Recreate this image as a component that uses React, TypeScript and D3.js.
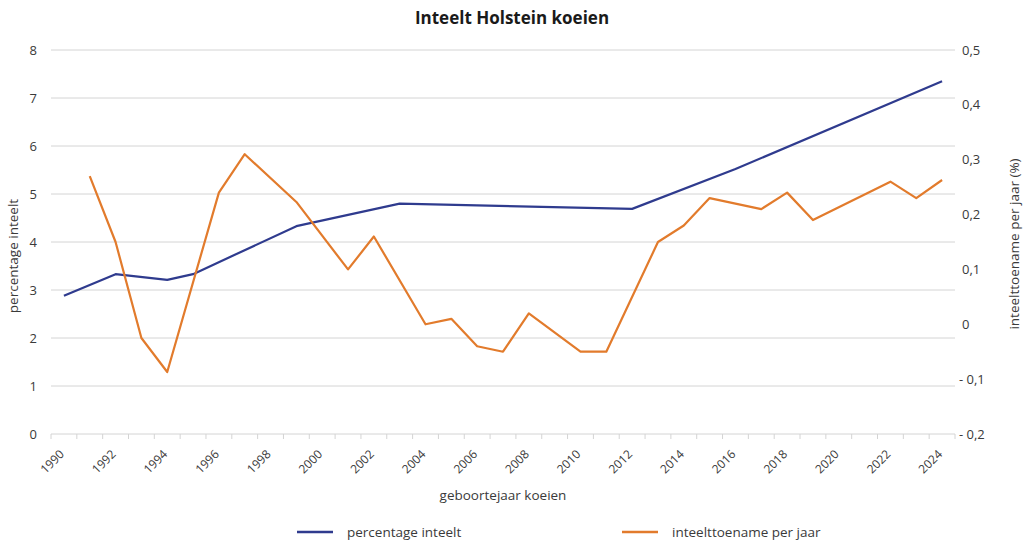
import React, { useEffect, useRef } from 'react';
import * as d3 from 'd3';

// Geboortejaren (categorie-as)
const years: number[] = [
  1990, 1991, 1992, 1993, 1994, 1995, 1996, 1997, 1998, 1999,
  2000, 2001, 2002, 2003, 2004, 2005, 2006, 2007, 2008, 2009,
  2010, 2011, 2012, 2013, 2014, 2015, 2016, 2017, 2018, 2019,
  2020, 2021, 2022, 2023, 2024
];

// percentage inteelt (linker as); null = geen waarde, lijn loopt door
const inteelt: (number | null)[] = [
  2.88, null, 3.33, null, 3.21, 3.33, null, null, null, 4.33,
  null, null, null, 4.8, null, null, null, null, null, null,
  null, null, 4.69, null, null, null, 5.52, null, null, null,
  null, null, null, null, 7.35
];

// inteelttoename per jaar (rechter as)
const toename: (number | null)[] = [
  null, 0.27, 0.15, -0.025, -0.087, null, 0.24, 0.31, null, 0.223,
  null, 0.1, 0.16, null, 0.0, 0.01, -0.04, -0.05, 0.02, null,
  -0.05, -0.05, null, 0.15, 0.18, 0.23, null, 0.21, 0.24, 0.19,
  null, null, 0.26, 0.23, 0.263
];

const leftTicks = [0, 1, 2, 3, 4, 5, 6, 7, 8];
const rightTicks = [-0.2, -0.1, 0, 0.1, 0.2, 0.3, 0.4, 0.5];

const BLUE = '#2f3b8e';
const ORANGE = '#e27b2c';
const INK = '#3a3a3a';
const GRID = '#d4d4d4';
const FONT = '"Open Sans", "Noto Sans", sans-serif';

const App: React.FC = () => {
  const svgRef = useRef<SVGSVGElement>(null);

  useEffect(() => {
    if (!svgRef.current) return;
    document.body.style.margin = '0';

    const width = 1024;
    const height = 549;
    const plot = { left: 51, right: 955, top: 50, bottom: 434 };

    const svg = d3.select(svgRef.current)
      .attr('width', width)
      .attr('height', height);
    svg.selectAll('*').remove();

    const x = d3.scaleBand<number>()
      .domain(years)
      .range([plot.left, plot.right])
      .padding(0);
    const xc = (yr: number) => (x(yr) ?? 0) + x.bandwidth() / 2;

    const yL = d3.scaleLinear().domain([0, 8]).range([plot.bottom, plot.top]);
    const yR = d3.scaleLinear().domain([-0.2, 0.5]).range([plot.bottom, plot.top]);

    // Title
    svg.append('text')
      .attr('x', width / 2)
      .attr('y', 24)
      .attr('text-anchor', 'middle')
      .attr('font-family', FONT)
      .attr('font-size', '17px')
      .attr('font-weight', 'bold')
      .attr('fill', '#1a1a1a')
      .text('Inteelt Holstein koeien');

    // Horizontal grid lines
    svg.append('g')
      .selectAll('line')
      .data(leftTicks.filter(t => t > 0))
      .enter()
      .append('line')
      .attr('x1', plot.left)
      .attr('x2', plot.right)
      .attr('y1', d => yL(d))
      .attr('y2', d => yL(d))
      .attr('stroke', GRID)
      .attr('stroke-width', 1);

    // Bottom axis: ticks on band edges, labels every second year
    const xAxis = svg.append('g');
    xAxis.append('line')
      .attr('x1', plot.left)
      .attr('x2', plot.right)
      .attr('y1', plot.bottom)
      .attr('y2', plot.bottom)
      .attr('stroke', GRID);
    const edges = [...years.map(yr => x(yr) ?? 0), plot.right];
    xAxis.selectAll('.tick')
      .data(edges)
      .enter()
      .append('line')
      .attr('x1', d => d)
      .attr('x2', d => d)
      .attr('y1', plot.bottom)
      .attr('y2', plot.bottom + 5)
      .attr('stroke', GRID);
    xAxis.selectAll('.xlabel')
      .data(years.filter((yr, i) => i % 2 === 0))
      .enter()
      .append('text')
      .attr('transform', d => `translate(${xc(d) - 5},${plot.bottom + 15}) rotate(-45)`)
      .attr('text-anchor', 'end')
      .attr('dy', '0.7em')
      .attr('font-family', FONT)
      .attr('font-size', '12px')
      .attr('fill', INK)
      .text(d => String(d));

    // Left axis labels
    svg.append('g')
      .selectAll('text')
      .data(leftTicks)
      .enter()
      .append('text')
      .attr('x', 37)
      .attr('y', d => yL(d))
      .attr('dy', '0.35em')
      .attr('text-anchor', 'end')
      .attr('font-family', FONT)
      .attr('font-size', '13px')
      .attr('fill', INK)
      .text(d => String(d));

    // Right axis labels
    const fmtR = (v: number) => {
      const s = Math.abs(v) < 1e-9 ? '0' : d3.format('.1f')(Math.abs(v)).replace('.', ',');
      return v < -1e-9 ? `- ${s}` : s;
    };
    svg.append('g')
      .selectAll('text')
      .data(rightTicks)
      .enter()
      .append('text')
      .attr('x', d => (d < 0 ? 959 : 962))
      .attr('y', d => yR(d))
      .attr('dy', '0.35em')
      .attr('text-anchor', 'start')
      .attr('font-family', FONT)
      .attr('font-size', '13px')
      .attr('fill', INK)
      .text(d => fmtR(d));

    // Axis titles
    svg.append('text')
      .attr('transform', 'translate(18,256) rotate(-90)')
      .attr('text-anchor', 'middle')
      .attr('font-family', FONT)
      .attr('font-size', '13.5px')
      .attr('fill', INK)
      .text('percentage inteelt');

    svg.append('text')
      .attr('transform', `translate(1019,${(plot.top + plot.bottom) / 2 + 2}) rotate(-90)`)
      .attr('text-anchor', 'middle')
      .attr('font-family', FONT)
      .attr('font-size', '13.5px')
      .attr('fill', INK)
      .text('inteelttoename per jaar (%)');

    svg.append('text')
      .attr('x', (plot.left + plot.right) / 2)
      .attr('y', 500)
      .attr('text-anchor', 'middle')
      .attr('font-family', FONT)
      .attr('font-size', '13.5px')
      .attr('fill', INK)
      .text('geboortejaar koeien');

    // Series lines; missing years are skipped so the line connects across them
    const drawSeries = (vals: (number | null)[], scale: d3.ScaleLinear<number, number>, color: string) => {
      const pts = years
        .map((yr, i) => ({ yr, v: vals[i] }))
        .filter(d => d.v !== null) as { yr: number; v: number }[];
      const line = d3.line<{ yr: number; v: number }>()
        .x(d => xc(d.yr))
        .y(d => scale(d.v));
      svg.append('path')
        .datum(pts)
        .attr('fill', 'none')
        .attr('stroke', color)
        .attr('stroke-width', 2.2)
        .attr('stroke-linejoin', 'round')
        .attr('d', line);
    };
    drawSeries(inteelt, yL, BLUE);
    drawSeries(toename, yR, ORANGE);

    // Legend
    const legend = [
      { label: 'percentage inteelt', color: BLUE, x: 297 },
      { label: 'inteelttoename per jaar', color: ORANGE, x: 622 }
    ];
    const lg = svg.append('g');
    legend.forEach(item => {
      lg.append('line')
        .attr('x1', item.x)
        .attr('x2', item.x + 36)
        .attr('y1', 532)
        .attr('y2', 532)
        .attr('stroke', item.color)
        .attr('stroke-width', 2.5);
      lg.append('text')
        .attr('x', item.x + 50)
        .attr('y', 532)
        .attr('dy', '0.35em')
        .attr('font-family', FONT)
        .attr('font-size', '13.5px')
        .attr('fill', INK)
        .text(item.label);
    });
  }, []);

  return <svg ref={svgRef} style={{ display: 'block' }}></svg>;
};

export default App;
